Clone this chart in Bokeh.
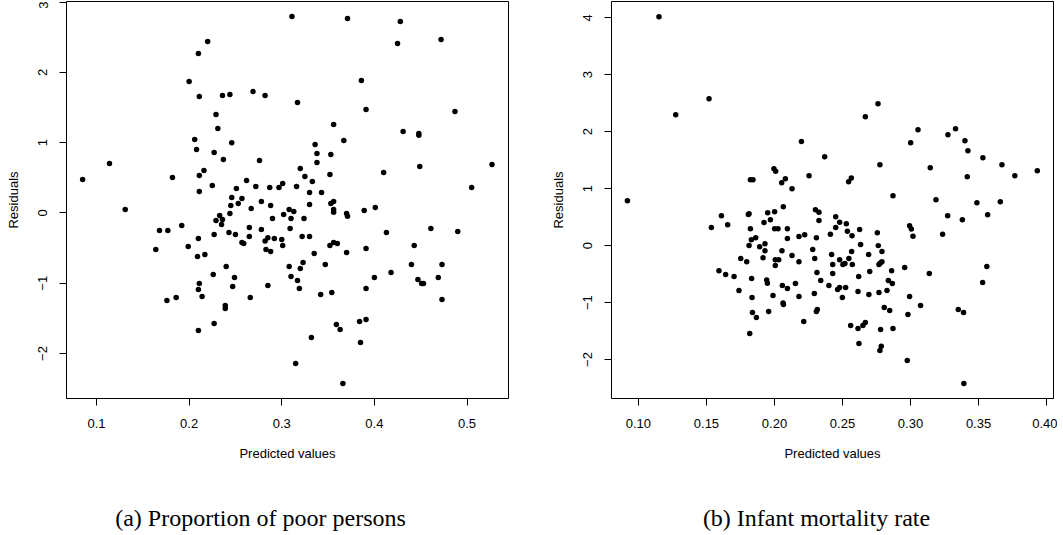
from bokeh.plotting import figure
from bokeh.layouts import row, column
from bokeh.models import FixedTicker, PrintfTickFormatter
from bokeh.core.properties import value
from bokeh.embed import file_html
from bokeh.resources import INLINE

# ---- Panel (a): Proportion of poor persons ----
pred_a = [0.085, 0.114, 0.131, 0.182, 0.200, 0.210, 0.220, 0.211, 0.229, 0.231,
          0.206, 0.208, 0.227, 0.246, 0.237, 0.236, 0.244, 0.269, 0.282, 0.276,
          0.211, 0.216, 0.211, 0.225, 0.262, 0.251, 0.272, 0.246, 0.257, 0.253,
          0.245, 0.278, 0.267, 0.244, 0.233, 0.229, 0.236, 0.235, 0.168, 0.177,
          0.192, 0.164, 0.199, 0.210, 0.209, 0.217, 0.227, 0.243, 0.250, 0.265,
          0.278, 0.257, 0.259, 0.265, 0.282, 0.285, 0.283, 0.226, 0.240, 0.249,
          0.211, 0.210, 0.214, 0.247, 0.266, 0.285, 0.176, 0.186, 0.239, 0.239,
          0.227, 0.210, 0.311, 0.371, 0.428, 0.472, 0.425, 0.386, 0.317, 0.391,
          0.487, 0.356, 0.431, 0.448, 0.448, 0.367, 0.336, 0.338, 0.353, 0.338,
          0.320, 0.352, 0.325, 0.333, 0.301, 0.297, 0.287, 0.316, 0.330, 0.343,
          0.410, 0.449, 0.527, 0.505, 0.288, 0.330, 0.353, 0.356, 0.356, 0.356,
          0.308, 0.313, 0.302, 0.290, 0.310, 0.324, 0.370, 0.371, 0.389, 0.401,
          0.309, 0.292, 0.300, 0.301, 0.322, 0.330, 0.288, 0.352, 0.356, 0.360,
          0.335, 0.370, 0.391, 0.413, 0.461, 0.490, 0.443, 0.308, 0.323, 0.320,
          0.347, 0.310, 0.317, 0.319, 0.342, 0.354, 0.391, 0.400, 0.418, 0.440,
          0.473, 0.447, 0.451, 0.453, 0.469, 0.473, 0.384, 0.391, 0.359, 0.363,
          0.332, 0.385, 0.315, 0.366]
resid_a = [0.477, 0.704, 0.050, 0.505, 1.871, 2.269, 2.440, 1.657, 1.401, 1.202,
           1.046, 0.903, 0.861, 0.998, 0.761, 1.671, 1.686, 1.728, 1.671, 0.747,
           0.533, 0.605, 0.306, 0.391, 0.462, 0.349, 0.377, 0.220, 0.206, 0.135,
           0.107, 0.164, 0.064, -0.007, -0.036, -0.107, -0.092, -0.164, -0.249, -0.249,
           -0.178, -0.519, -0.477, -0.363, -0.619, -0.590, -0.306, -0.277, -0.306, -0.206,
           -0.235, -0.420, -0.434, -0.334, -0.400, -0.353, -0.519, -0.875, -0.761, -0.918,
           -1.003, -1.088, -1.188, -1.045, -1.202, -1.031, -1.245, -1.202, -1.316, -1.358,
           -1.572, -1.671, 2.795, 2.767, 2.724, 2.468, 2.411, 1.885, 1.572, 1.472,
           1.444, 1.259, 1.159, 1.131, 1.107, 1.031, 0.974, 0.846, 0.832, 0.718,
           0.633, 0.548, 0.519, 0.448, 0.420, 0.363, 0.363, 0.377, 0.292, 0.292,
           0.576, 0.661, 0.690, 0.363, 0.107, 0.121, 0.135, 0.164, 0.050, 0.011,
           0.050, 0.021, -0.021, -0.078, -0.078, -0.078, -0.007, -0.045, 0.036, 0.078,
           -0.220, -0.363, -0.377, -0.462, -0.334, -0.334, -0.548, -0.462, -0.420, -0.434,
           -0.576, -0.562, -0.505, -0.277, -0.220, -0.263, -0.462, -0.761, -0.704, -0.790,
           -0.733, -0.903, -0.960, -1.074, -1.159, -1.131, -1.074, -0.918, -0.846, -0.733,
           -0.733, -0.946, -1.003, -1.003, -0.918, -1.230, -1.543, -1.515, -1.586, -1.657,
           -1.771, -1.842, -2.141, -2.425]

# ---- Panel (b): Infant mortality rate ----
pred_b = [0.1151, 0.0919, 0.1274, 0.1519, 0.1610, 0.1656, 0.1536, 0.1813, 0.1808, 0.1823,
          0.1842, 0.1950, 0.2001, 0.1996, 0.2009, 0.2053, 0.2080, 0.2129, 0.2065, 0.1923,
          0.1970, 0.2198, 0.1823, 0.2001, 0.2026, 0.2095, 0.1830, 0.1862, 0.2095, 0.2180,
          0.1813, 0.1891, 0.1930, 0.1930, 0.2055, 0.1916, 0.2006, 0.2031, 0.2006, 0.2129,
          0.2180, 0.1752, 0.1796, 0.1592, 0.1641, 0.1703, 0.1832, 0.1943, 0.1948, 0.2058,
          0.2095, 0.2154, 0.2180, 0.1739, 0.1835, 0.1989, 0.2063, 0.2066, 0.1838, 0.1867,
          0.1957, 0.1818, 0.2761, 0.2668, 0.2369, 0.2254, 0.2545, 0.2565, 0.2775, 0.2871,
          0.3001, 0.3055, 0.3145, 0.3187, 0.3275, 0.3331, 0.3400, 0.3422, 0.3417, 0.3532,
          0.3672, 0.3767, 0.3932, 0.3488, 0.3660, 0.3273, 0.3381, 0.3567, 0.2301, 0.2327,
          0.2327, 0.2450, 0.2479, 0.2528, 0.2450, 0.2626, 0.2993, 0.3006, 0.3018, 0.2411,
          0.2308, 0.2222, 0.2536, 0.2570, 0.2756, 0.3236, 0.2281, 0.2296, 0.2312, 0.2340,
          0.2420, 0.2428, 0.2428, 0.2479, 0.2503, 0.2518, 0.2547, 0.2567, 0.2572, 0.2633,
          0.2692, 0.2763, 0.2790, 0.2768, 0.2778, 0.2790, 0.2700, 0.2619, 0.2861, 0.2837,
          0.2866, 0.2957, 0.3138, 0.2400, 0.2464, 0.2479, 0.2523, 0.2499, 0.2614, 0.2694,
          0.2768, 0.2827, 0.2293, 0.2315, 0.2308, 0.2215, 0.2807, 0.2847, 0.2993, 0.3074,
          0.2981, 0.2871, 0.2560, 0.2614, 0.2650, 0.2668, 0.2780, 0.2621, 0.2785, 0.2775,
          0.2976, 0.3351, 0.3390, 0.3530, 0.3561, 0.3392]
resid_b = [4.018, 0.789, 2.298, 2.579, 0.526, 0.368, 0.316, 0.561, 0.545, 1.158,
           1.158, 0.579, 0.596, 1.351, 1.304, 1.105, 1.175, 1.000, 0.684, 0.404,
           0.456, 1.830, 0.298, 0.298, 0.298, 0.298, 0.105, 0.140, 0.123, 0.158,
           0.000, -0.018, 0.035, -0.088, -0.088, -0.211, -0.246, -0.246, -0.351, -0.175,
           -0.281, -0.228, -0.281, -0.439, -0.509, -0.544, -0.579, -0.602, -0.661, -0.702,
           -0.754, -0.667, -0.895, -0.789, -0.912, -0.877, -1.006, -1.035, -1.175, -1.263,
           -1.158, -1.544, 2.491, 2.263, 1.561, 1.228, 1.123, 1.187, 1.421, 0.877,
           1.807, 2.035, 1.368, 0.807, 1.947, 2.053, 1.842, 1.667, 1.211, 1.544,
           1.421, 1.228, 1.316, 0.754, 0.772, 0.526, 0.456, 0.544, 0.632, 0.585,
           0.439, 0.509, 0.409, 0.386, 0.316, 0.281, 0.351, 0.290, 0.164, 0.199,
           0.140, 0.193, 0.251, 0.175, 0.228, 0.199, -0.070, -0.228, -0.474, -0.614,
           -0.158, -0.333, -0.491, -0.246, -0.333, -0.316, -0.228, -0.105, -0.333, 0.018,
           -0.158, 0.000, -0.105, -0.333, -0.304, -0.281, -0.456, -0.544, -0.439, -0.614,
           -0.667, -0.386, -0.491, -0.702, -0.772, -0.737, -0.737, -0.912, -0.807, -0.860,
           -0.825, -0.789, -0.842, -1.123, -1.158, -1.333, -1.088, -1.140, -0.895, -1.053,
           -1.211, -1.456, -1.404, -1.456, -1.404, -1.351, -1.474, -1.719, -1.766, -1.842,
           -2.018, -1.123, -1.175, -0.649, -0.368, -2.421]

xticks_a = [0.1, 0.2, 0.3, 0.4, 0.5]
yticks_a = [-2, -1, 0, 1, 2, 3]
xticks_b = [0.10, 0.15, 0.20, 0.25, 0.30, 0.35, 0.40]
yticks_b = [-2, -1, 0, 1, 2, 3, 4]

caption_a = "(a) Proportion of poor persons"
caption_b = "(b) Infant mortality rate"
x_label = "Predicted values"
y_label = "Residuals"

SANS = "Liberation Sans"
SERIF = "Liberation Serif"

PLOT_H = 468
CAP_H = 65


def make_panel(xs, ys, xr, yr, xt, yt, fmt, width, bl, br):
    p = figure(width=width, height=PLOT_H, x_range=xr, y_range=yr,
               output_backend="svg", toolbar_location=None,
               min_border_left=bl, min_border_right=br,
               min_border_top=0, min_border_bottom=PLOT_H - 397)
    p.background_fill_color = "white"
    p.border_fill_color = "white"
    p.outline_line_color = "black"
    p.outline_line_width = 1
    p.xgrid.visible = False
    p.ygrid.visible = False
    p.scatter(xs, ys, size=5.5, fill_color="black", line_color=None)

    for ax in (p.xaxis[0], p.yaxis[0]):
        ax.axis_line_color = None
        ax.major_tick_out = 7
        ax.major_tick_in = 0
        ax.minor_tick_line_color = None
        ax.major_tick_line_color = "black"
        ax.major_label_text_font = SANS
        ax.major_label_text_font_size = "13px"
        ax.major_label_text_color = "black"
        ax.axis_label_text_font = SANS
        ax.axis_label_text_font_size = "13px"
        ax.axis_label_text_font_style = "normal"
        ax.axis_label_text_color = "black"

    p.xaxis.ticker = FixedTicker(ticks=xt)
    p.yaxis.ticker = FixedTicker(ticks=yt)
    p.xaxis.formatter = PrintfTickFormatter(format=fmt)
    p.yaxis.major_label_orientation = "vertical"
    p.xaxis.axis_label = x_label
    p.yaxis.axis_label = y_label
    p.xaxis.major_label_standoff = 13
    p.xaxis.axis_label_standoff = 15
    p.yaxis.major_label_standoff = 12
    p.yaxis.axis_label_standoff = 15
    return p


def make_caption(text, width, cx, cy):
    c = figure(width=width, height=CAP_H, x_range=(0, width), y_range=(0, CAP_H),
               output_backend="svg", toolbar_location=None,
               x_axis_type=None, y_axis_type=None,
               min_border_left=0, min_border_right=0,
               min_border_top=0, min_border_bottom=0)
    c.outline_line_color = None
    c.background_fill_color = "white"
    c.border_fill_color = "white"
    c.xgrid.visible = False
    c.ygrid.visible = False
    c.text(x=[cx], y=[cy], text=[text], text_font=value(SERIF),
           text_font_size="24px", text_align="center",
           text_baseline="middle", text_color="black")
    return c


p1 = make_panel(pred_a, resid_a, (0.0676, 0.5448), (-2.64, 3.009),
                xticks_a, yticks_a, "%.1f", 530, 67, 21)
p2 = make_panel(pred_b, resid_b, (0.0802, 0.4051), (-2.684, 4.286),
                xticks_b, yticks_b, "%.2f", 528, 82, 4)
c1 = make_caption(caption_a, 530, 261, 17)
c2 = make_caption(caption_b, 528, 287, 17)

layout = column(row(p1, p2), row(c1, c2),
                styles={"margin-top": "1px", "margin-left": "-1px"})

open("out.html", "w").write(file_html(layout, INLINE))
